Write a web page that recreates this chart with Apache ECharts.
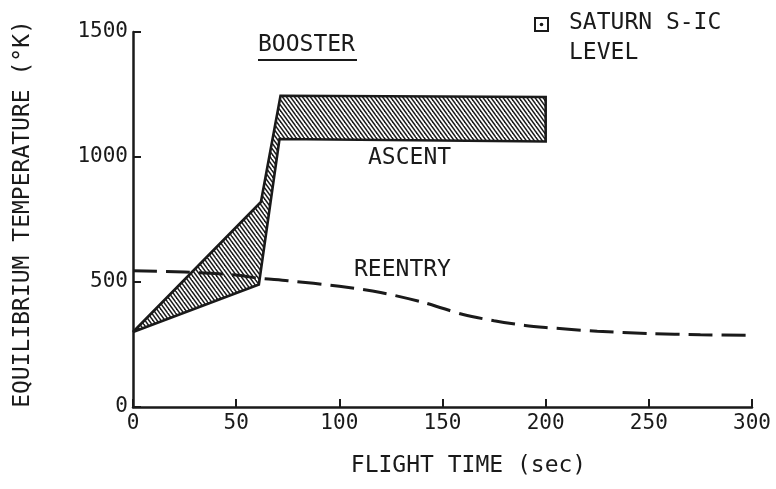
<!DOCTYPE html>
<html>
<head>
<meta charset="utf-8">
<script src="https://cdn.jsdelivr.net/npm/echarts@6/dist/echarts.min.js"></script>
<style>
  html, body { margin: 0; padding: 0; background: #fff; }
  #chart { width: 776px; height: 489px; }
</style>
</head>
<body>
<div id="chart"></div>
<script>
// x ticks / y ticks
const xTicks = [0, 50, 100, 150, 200, 250, 300];
const yTicks = [0, 500, 1000, 1500];

// booster ascent band (hatched), outline goes up the top edge and back along the bottom
const ascentUpperX = [0, 62, 71.5, 200];
const ascentUpperY = [300, 820, 1245, 1240];
const ascentLowerX = [200, 71, 61, 0];
const ascentLowerY = [1062, 1072, 490, 300];

// reentry curve (dashed)
const reentryX = [0, 25, 50, 60, 75, 100, 120, 140, 150, 160, 175, 190, 200, 225, 250, 275, 300];
const reentryY = [545, 540, 528, 516, 505, 483, 458, 420, 395, 370, 345, 326, 318, 303, 294, 289, 287];

const FONT = 'DejaVu Sans Mono';
const INK = '#1a1a1a';

// hatch pattern "\\\\", 2 lines per tile
function makeHatch() {
  const w = 8, h = 11, n = 2;
  const c = document.createElement('canvas');
  c.width = w; c.height = h;
  const ctx = c.getContext('2d');
  ctx.strokeStyle = INK;
  ctx.lineWidth = 1.5;
  for (let k = -2 * n; k <= 2 * n; k++) {
    const x0 = k * w / n;
    ctx.beginPath();
    ctx.moveTo(x0 - 2 * w, -2 * h);
    ctx.lineTo(x0 + 2 * w, 2 * h);
    ctx.stroke();
  }
  return { image: c, repeat: 'repeat' };
}
const hatch = makeHatch();

const bandPts = [];
ascentUpperX.forEach((x, i) => bandPts.push([x, ascentUpperY[i]]));
ascentLowerX.forEach((x, i) => bandPts.push([x, ascentLowerY[i]]));

const chart = echarts.init(document.getElementById('chart'));
const option = {
  animation: false,
  grid: { left: 133, right: 24, top: 32, bottom: 82 },
  xAxis: {
    type: 'value',
    min: xTicks[0],
    max: xTicks[xTicks.length - 1],
    interval: 50,
    name: 'FLIGHT TIME (sec)',
    nameLocation: 'middle',
    nameGap: 48,
    nameTextStyle: { fontFamily: FONT, fontSize: 23, color: INK, padding: [0, 0, 0, 52] },
    axisLine: { lineStyle: { color: INK, width: 2.5 } },
    axisTick: { inside: true, length: 8, lineStyle: { color: INK, width: 2 } },
    axisLabel: { fontFamily: FONT, fontSize: 21, color: INK, margin: 6 },
    splitLine: { show: false }
  },
  yAxis: {
    type: 'value',
    min: yTicks[0],
    max: yTicks[yTicks.length - 1],
    interval: 500,
    name: 'EQUILIBRIUM TEMPERATURE (°K)',
    nameLocation: 'middle',
    nameGap: 98,
    nameTextStyle: { fontFamily: FONT, fontSize: 23, color: INK, padding: [0, 0, 0, 11] },
    axisLine: { show: true, lineStyle: { color: INK, width: 2.5 } },
    axisTick: { show: true, inside: true, length: 8, lineStyle: { color: INK, width: 2 } },
    axisLabel: { fontFamily: FONT, fontSize: 21, color: INK, margin: 5, formatter: v => String(v) },
    splitLine: { show: false }
  },
  series: [
    {
      type: 'custom',
      name: 'ascent',
      data: [0],
      z: 3,
      renderItem(params, api) {
        const pts = bandPts.map(p => api.coord(p));
        return {
          type: 'polygon',
          shape: { points: pts },
          style: { fill: hatch, stroke: INK, lineWidth: 2.6, lineJoin: 'miter', miterLimit: 2 }
        };
      }
    },
    {
      type: 'line',
      name: 'reentry',
      data: reentryX.map((x, i) => [x, reentryY[i]]),
      smooth: 0.3,
      showSymbol: false,
      z: 4,
      lineStyle: { color: INK, width: 3, type: [24, 9] }
    }
  ],
  graphic: [
    { type: 'text', left: 258, top: 34, style: { text: 'BOOSTER', font: '23px ' + FONT, fill: INK } },
    { type: 'line', shape: { x1: 258, y1: 60, x2: 357, y2: 60 }, style: { stroke: INK, lineWidth: 2 } },
    { type: 'text', left: 368, top: 147, style: { text: 'ASCENT', font: '23px ' + FONT, fill: INK } },
    { type: 'text', left: 354, top: 259, style: { text: 'REENTRY', font: '23px ' + FONT, fill: INK } },
    { type: 'rect', shape: { x: 535, y: 18, width: 13, height: 13 }, style: { fill: 'none', stroke: INK, lineWidth: 2 } },
    { type: 'circle', shape: { cx: 541.5, cy: 24.5, r: 1.8 }, style: { fill: INK } },
    { type: 'text', left: 569, top: 12, style: { text: 'SATURN S-IC', font: '23px ' + FONT, fill: INK } },
    { type: 'text', left: 569, top: 42, style: { text: 'LEVEL', font: '23px ' + FONT, fill: INK } }
  ]
};
chart.setOption(option);
</script>
</body>
</html>
